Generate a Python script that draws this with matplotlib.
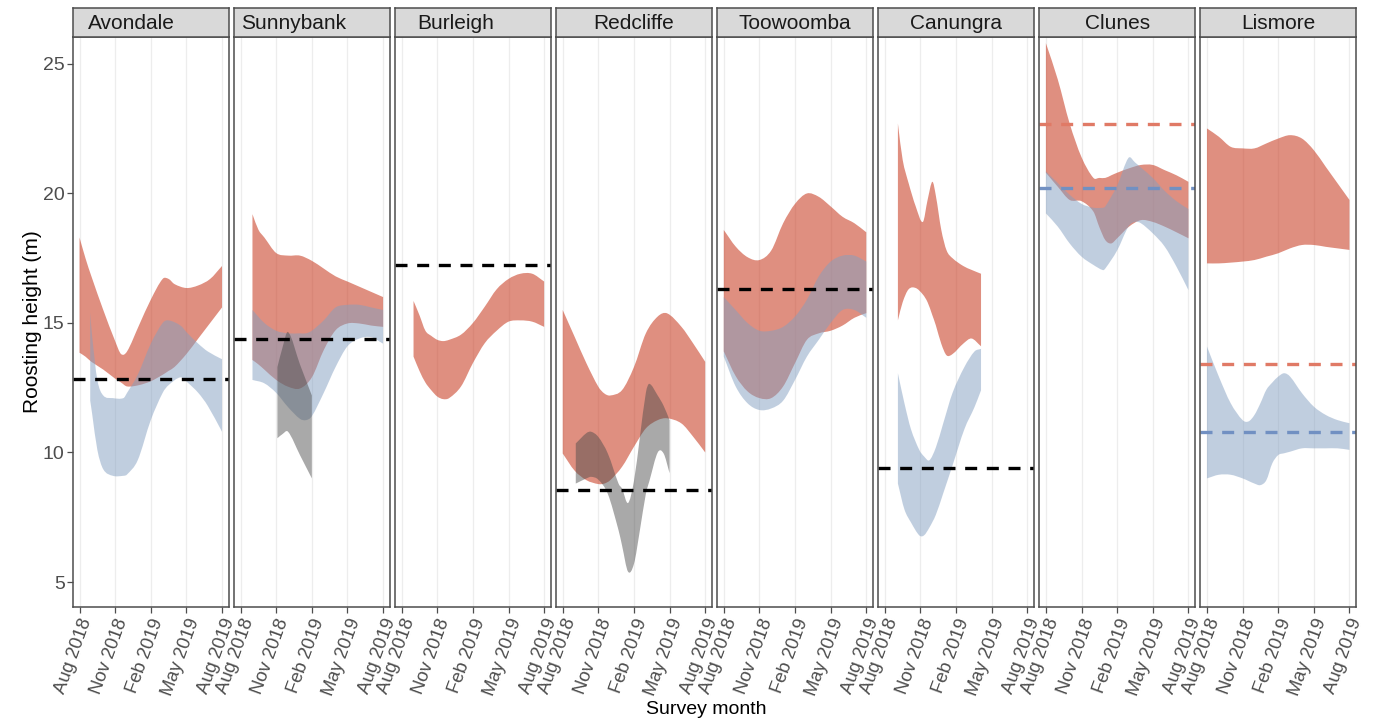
import matplotlib
matplotlib.use("Agg")
import matplotlib.pyplot as plt
from matplotlib.path import Path
from matplotlib.patches import PathPatch
from matplotlib.transforms import ScaledTranslation

plt.rcParams['font.family'] = ['Liberation Sans', 'DejaVu Sans']

# ---------------------------------------------------------------- data
sites = ["Avondale", "Sunnybank", "Burleigh", "Redcliffe",
         "Toowoomba", "Canungra", "Clunes", "Lismore"]

# x values are months since August 2018
month_ticks = [0, 3, 6, 9, 12]
month_labels = ["Aug 2018", "Nov 2018", "Feb 2019", "May 2019", "Aug 2019"]
y_ticks = [5, 10, 15, 20, 25]

# Avondale
avondale_red_m = [0, 0.5, 1, 2, 3, 3.5, 4, 5, 6, 7, 7.5, 8, 9, 10, 11, 12]
avondale_red_hi = [18.3, 17.5, 16.8, 15.5, 14.3, 13.8, 13.9, 14.9, 15.9, 16.7, 16.7, 16.5, 16.35, 16.45, 16.7, 17.2]
avondale_red_lo = [13.85, 13.7, 13.5, 13.2, 12.85, 12.7, 12.55, 12.6, 12.75, 13.0, 13.15, 13.3, 13.8, 14.4, 15.0, 15.6]
avondale_blue_m = [0.9, 1.06, 1.5, 2, 2.8, 3.7, 4, 4.9, 6, 7, 7.5, 8.5, 9.1, 10, 10.8, 12]
avondale_blue_hi = [15.4, 14.5, 12.8, 12.2, 12.1, 12.1, 12.3, 13.0, 14.2, 15.0, 15.1, 14.9, 14.6, 14.2, 13.9, 13.6]
avondale_blue_lo = [12.0, 11.5, 10.1, 9.35, 9.1, 9.1, 9.15, 9.7, 11.25, 12.3, 12.6, 12.9, 12.7, 12.3, 11.8, 10.8]

# Sunnybank
sunnybank_red_m = [1, 1.5, 2, 3, 4, 5, 6, 7, 8, 9, 10, 11, 12]
sunnybank_red_hi = [19.2, 18.6, 18.3, 17.7, 17.6, 17.6, 17.4, 17.1, 16.8, 16.6, 16.4, 16.2, 16.0]
sunnybank_red_lo = [13.57, 13.4, 13.2, 12.8, 12.54, 12.47, 12.9, 13.95, 14.72, 14.98, 14.98, 14.9, 14.85]
sunnybank_blue_m = [1, 2, 3, 4, 5, 5.5, 6, 7, 8, 9, 10, 11, 12]
sunnybank_blue_hi = [15.5, 15.0, 14.7, 14.6, 14.6, 14.6, 14.7, 15.1, 15.6, 15.7, 15.7, 15.6, 15.5]
sunnybank_blue_lo = [12.8, 12.67, 12.3, 11.75, 11.3, 11.25, 11.4, 12.3, 13.3, 14.1, 14.4, 14.45, 14.2]
sunnybank_grey_m = [3.1, 3.5, 4.0, 5.0, 6.0]
sunnybank_grey_hi = [13.3, 14.0, 14.65, 13.4, 12.2]
sunnybank_grey_lo = [10.55, 10.7, 10.8, 9.9, 9.0]

# Burleigh
burleigh_red_m = [1, 1.5, 2, 2.5, 3, 3.5, 4, 5, 6, 7, 8, 9, 10, 11, 12]
burleigh_red_hi = [15.85, 15.3, 14.7, 14.5, 14.35, 14.3, 14.35, 14.55, 15.0, 15.63, 16.3, 16.7, 16.9, 16.9, 16.6]
burleigh_red_lo = [13.7, 13.15, 12.7, 12.4, 12.16, 12.06, 12.1, 12.55, 13.45, 14.22, 14.7, 15.05, 15.1, 15.05, 14.85]

# Redcliffe
redcliffe_red_m = [0, 1, 2, 3, 3.5, 4, 5, 6, 7, 8, 8.8, 10, 11, 12]
redcliffe_red_hi = [15.5, 14.47, 13.44, 12.54, 12.28, 12.2, 12.41, 13.3, 14.6, 15.25, 15.37, 14.85, 14.2, 13.5]
redcliffe_red_lo = [9.96, 9.3, 8.93, 8.78, 8.8, 8.93, 9.45, 10.22, 10.93, 11.25, 11.32, 11.12, 10.6, 10.0]
redcliffe_grey_m = [1.1, 2.0, 2.4, 3.0, 3.8, 4.7, 5.0, 5.5, 6.0, 6.5, 7.0, 7.3, 8.0, 8.5, 9.0]
redcliffe_grey_hi = [10.35, 10.75, 10.8, 10.6, 9.96, 8.8, 8.6, 8.05, 8.9, 10.6, 12.3, 12.65, 12.2, 11.8, 11.25]
redcliffe_grey_lo = [8.8, 9.0, 9.06, 8.95, 8.4, 7.0, 6.4, 5.4, 5.7, 7.0, 8.4, 8.9, 10.0, 9.96, 9.2]

# Toowoomba
toowoomba_red_m = [0, 1, 2, 3, 4, 5, 6, 7, 8, 9, 10, 11, 12]
toowoomba_red_hi = [18.59, 17.95, 17.54, 17.43, 17.8, 18.85, 19.6, 20.0, 19.87, 19.5, 19.1, 18.85, 18.5]
toowoomba_red_lo = [13.9, 12.95, 12.36, 12.1, 12.1, 12.55, 13.45, 14.35, 14.6, 14.7, 14.9, 15.2, 15.38]
toowoomba_blue_m = [0, 1, 2, 3, 4, 5, 6, 7, 8, 9, 10, 11, 12]
toowoomba_blue_hi = [16.0, 15.5, 15.0, 14.7, 14.7, 14.85, 15.25, 15.9, 16.8, 17.37, 17.6, 17.6, 17.37]
toowoomba_blue_lo = [13.7, 12.55, 11.9, 11.64, 11.7, 12.0, 12.8, 13.7, 14.35, 15.0, 15.5, 15.5, 15.2]

# Canungra
canungra_red_m = [1.1, 1.5, 2.0, 2.6, 3.2, 3.6, 4.0, 4.3, 4.75, 5.2, 5.7, 6.6, 7.3, 8.1]
canungra_red_hi = [22.7, 21.3, 20.4, 19.5, 18.9, 19.75, 20.45, 19.9, 18.6, 17.8, 17.5, 17.2, 17.05, 16.9]
canungra_red_lo = [15.1, 15.8, 16.3, 16.35, 16.1, 15.8, 15.3, 14.9, 14.2, 13.75, 13.8, 14.2, 14.4, 14.1]
canungra_blue_m = [1.1, 1.65, 2.2, 2.9, 3.3, 3.75, 4.3, 4.9, 5.7, 6.7, 7.55, 8.1]
canungra_blue_hi = [13.06, 11.9, 10.9, 10.1, 9.85, 9.7, 10.2, 11.1, 12.3, 13.3, 13.9, 14.0]
canungra_blue_lo = [8.8, 7.8, 7.3, 6.8, 6.8, 7.1, 7.6, 8.4, 9.5, 10.9, 11.75, 12.4]

# Clunes
clunes_red_m = [0, 1, 2, 3, 4, 4.5, 5, 5.5, 6, 7, 8, 9, 10, 11, 12]
clunes_red_hi = [25.8, 24.4, 22.7, 21.4, 20.6, 20.6, 20.6, 20.7, 20.8, 20.97, 21.1, 21.1, 20.9, 20.7, 20.45]
clunes_red_lo = [20.8, 20.26, 19.75, 19.7, 19.3, 18.7, 18.2, 18.07, 18.27, 18.72, 18.97, 18.9, 18.72, 18.5, 18.27]
clunes_blue_m = [0, 1, 2, 3, 4, 4.8, 5, 6, 6.95, 7.5, 8, 9, 10, 11, 12]
clunes_blue_hi = [20.85, 20.4, 19.95, 19.6, 19.45, 19.45, 19.5, 20.3, 21.37, 21.2, 21.0, 20.6, 20.1, 19.7, 19.4]
clunes_blue_lo = [19.23, 18.72, 18.07, 17.56, 17.24, 17.04, 17.1, 17.8, 18.72, 18.9, 18.85, 18.46, 17.95, 17.17, 16.27]

# Lismore
lismore_red_m = [0, 1, 2, 3, 4, 5, 6, 7, 8, 9, 10, 11, 12]
lismore_red_hi = [22.51, 22.19, 21.8, 21.74, 21.74, 21.93, 22.12, 22.25, 22.12, 21.67, 21.03, 20.39, 19.75]
lismore_red_lo = [17.3, 17.3, 17.33, 17.37, 17.43, 17.56, 17.69, 17.88, 18.01, 18.01, 17.94, 17.88, 17.82]
lismore_blue_m = [0, 1, 2, 3, 3.5, 4, 4.5, 5, 5.5, 6, 6.5, 7, 8, 9, 10, 11, 12]
lismore_blue_hi = [14.09, 12.93, 11.9, 11.25, 11.2, 11.45, 11.9, 12.42, 12.7, 12.93, 13.06, 12.93, 12.29, 11.77, 11.45, 11.25, 11.13]
lismore_blue_lo = [9.0, 9.14, 9.14, 9.0, 8.9, 8.8, 8.74, 8.93, 9.58, 9.9, 9.97, 10.03, 10.16, 10.16, 10.16, 10.16, 10.1]

# Reference heights (dashed lines)
black_ref = [12.85, 14.4, 17.25, 8.55, 16.3, 9.4, None, None]
red_ref = [None, None, None, None, None, None, 22.7, 13.4]
blue_ref = [None, None, None, None, None, None, 20.2, 10.8]

# ---------------------------------------------------------------- tables
ribbons = {
    "Avondale": [("red", avondale_red_m, avondale_red_lo, avondale_red_hi),
                 ("blue", avondale_blue_m, avondale_blue_lo, avondale_blue_hi)],
    "Sunnybank": [("red", sunnybank_red_m, sunnybank_red_lo, sunnybank_red_hi),
                  ("blue", sunnybank_blue_m, sunnybank_blue_lo, sunnybank_blue_hi),
                  ("grey", sunnybank_grey_m, sunnybank_grey_lo, sunnybank_grey_hi)],
    "Burleigh": [("red", burleigh_red_m, burleigh_red_lo, burleigh_red_hi)],
    "Redcliffe": [("red", redcliffe_red_m, redcliffe_red_lo, redcliffe_red_hi),
                  ("grey", redcliffe_grey_m, redcliffe_grey_lo, redcliffe_grey_hi)],
    "Toowoomba": [("red", toowoomba_red_m, toowoomba_red_lo, toowoomba_red_hi),
                  ("blue", toowoomba_blue_m, toowoomba_blue_lo, toowoomba_blue_hi)],
    "Canungra": [("red", canungra_red_m, canungra_red_lo, canungra_red_hi),
                 ("blue", canungra_blue_m, canungra_blue_lo, canungra_blue_hi)],
    "Clunes": [("red", clunes_red_m, clunes_red_lo, clunes_red_hi),
               ("blue", clunes_blue_m, clunes_blue_lo, clunes_blue_hi)],
    "Lismore": [("red", lismore_red_m, lismore_red_lo, lismore_red_hi),
                ("blue", lismore_blue_m, lismore_blue_lo, lismore_blue_hi)],
}

fill_style = {"red": ("#CB442B", 0.6, 2),
              "blue": ("#839FC1", 0.5, 3),
              "grey": ("#4B4B4B", 0.48, 4)}
line_colour = {"black": "#000000", "red": "#E07A66", "blue": "#7190C2"}


# ---------------------------------------------------------------- helpers
def _slopes(xs, ys):
    n = len(xs)
    s = []
    for k in range(n):
        a, b = max(k - 1, 0), min(k + 1, n - 1)
        s.append((ys[b] - ys[a]) / (xs[b] - xs[a]))
    return s


def smooth_edge(xs, ys):
    """Cubic Hermite Bezier segments passing through every (x, y)."""
    s = _slopes(xs, ys)
    verts, codes = [], []
    for k in range(len(xs) - 1):
        h = (xs[k + 1] - xs[k]) / 3.0
        verts += [(xs[k] + h, ys[k] + s[k] * h),
                  (xs[k + 1] - h, ys[k + 1] - s[k + 1] * h),
                  (xs[k + 1], ys[k + 1])]
        codes += [Path.CURVE4] * 3
    return verts, codes


def ribbon_path(m, lo, hi):
    v_hi, c_hi = smooth_edge(m, hi)
    v_lo, c_lo = smooth_edge(m[::-1], lo[::-1])
    verts = [(m[0], hi[0])] + v_hi + [(m[-1], lo[-1])] + v_lo + [(m[0], hi[0])]
    codes = [Path.MOVETO] + c_hi + [Path.LINETO] + c_lo + [Path.CLOSEPOLY]
    return Path(verts, codes)


# ---------------------------------------------------------------- layout
W, H = 1378, 723
fig = plt.figure(figsize=(W / 100, H / 100), dpi=100)
fig.patch.set_facecolor("white")

left_px, right_px, gap_px = 73, 1356, 5.5
top_px, bottom_px, strip_top_px = 37, 607, 8
panel_w = (right_px - left_px - 7 * gap_px) / 8
strip_text_x = [0.374, 0.385, 0.39, 0.5, 0.5, 0.5, 0.5, 0.5]

border = "#4D4D4D"
dash = (0, (3.6, 2.9))
label_shift = ScaledTranslation(4 / 100, 0, fig.dpi_scale_trans)

for i, site in enumerate(sites):
    x0 = left_px + i * (panel_w + gap_px)
    ax = fig.add_axes([x0 / W, (H - bottom_px) / H, panel_w / W,
                       (bottom_px - top_px) / H])
    ax.set_xlim(-0.55, 12.55)
    ax.set_ylim(4.035, 26.04)
    ax.set_facecolor("white")

    for xv in month_ticks:
        ax.axvline(xv, color="#EDEDED", lw=0.9, zorder=0)

    for kind, m, lo, hi in ribbons[site]:
        col, a, z = fill_style[kind]
        ax.add_patch(PathPatch(ribbon_path(m, lo, hi), facecolor=col,
                               alpha=a, lw=0, zorder=z))

    for kind, refs in (("black", black_ref), ("red", red_ref), ("blue", blue_ref)):
        if refs[i] is not None:
            ax.axhline(refs[i], color=line_colour[kind], lw=2.4,
                       linestyle=dash, zorder=6)

    for s in ax.spines.values():
        s.set_color(border)
        s.set_linewidth(1.1)
        s.set_zorder(10)

    ax.set_xticks(month_ticks)
    ax.set_xticklabels(month_labels, rotation=70, ha="right", va="top",
                       rotation_mode="anchor", fontsize=13.3, color="#4D4D4D")
    for lab in ax.get_xticklabels():
        lab.set_transform(lab.get_transform() + label_shift)
    ax.tick_params(axis="x", length=4, width=0.9, color="#4D4D4D", pad=2.5)
    ax.set_yticks(y_ticks)
    if i == 0:
        ax.set_yticklabels([str(v) for v in y_ticks], fontsize=14, color="#4D4D4D")
        ax.tick_params(axis="y", length=4, width=0.9, color="#4D4D4D", pad=2)
    else:
        ax.tick_params(axis="y", left=False, labelleft=False)

    sax = fig.add_axes([x0 / W, (H - top_px) / H, panel_w / W,
                        (top_px - strip_top_px) / H])
    sax.set_facecolor("#D9D9D9")
    sax.set_xticks([])
    sax.set_yticks([])
    for s in sax.spines.values():
        s.set_color(border)
        s.set_linewidth(1.1)
    sax.text(strip_text_x[i], 0.45, site, transform=sax.transAxes,
             ha="center", va="center", fontsize=15, color="#1A1A1A")

fig.text(33 / W, 1 - 322 / H, "Roosting height (m)", rotation=90,
         ha="center", va="center", fontsize=15, color="black")
fig.text(706 / W, 1 - 710 / H, "Survey month", ha="center", va="center",
         fontsize=14, color="black")

fig.savefig("out.png", dpi=100)
